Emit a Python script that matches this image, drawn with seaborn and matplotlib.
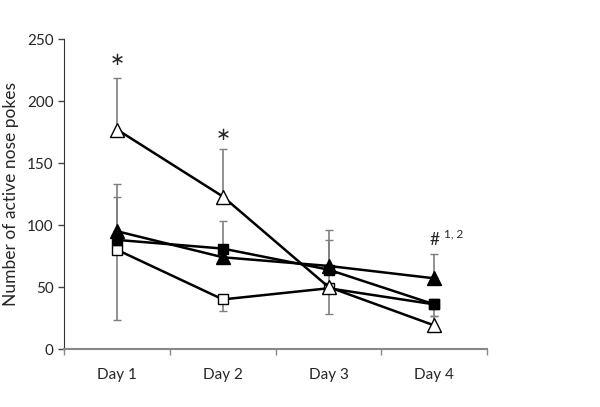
import matplotlib
matplotlib.use("Agg")
import matplotlib.pyplot as plt
import numpy as np
import pandas as pd
import seaborn as sns

DAYS = ["Day 1", "Day 2", "Day 3", "Day 4"]

# group means
OPEN_TRI = [177, 123, 50, 19]
FILLED_SQ = [88, 81, 64, 36]
FILLED_TRI = [95, 74, 67, 57]
OPEN_SQ = [80, 40, 49, 36]

# one-sided error bars (0 = not drawn)
OPEN_TRI_UP = [42, 38, 46, 8]
FILLED_SQ_UP = [35, 22, 24, 0]
FILLED_TRI_UP = [38, 0, 0, 20]
OPEN_SQ_DOWN = [57, 9, 21, 9]

STAR_Y = [233, 173]
HASH_Y = 88


def main() -> None:
	sns.set_style("white")
	plt.rcParams["font.family"] = ["Lato", "DejaVu Sans"]

	fig = plt.figure(figsize=(6.0, 4.07), dpi=100)
	ax = fig.add_axes([0.107, 0.1425, 0.705, 0.7615])

	x = np.arange(len(DAYS))
	series = [
		("open_sq", OPEN_SQ, "s", "white", 7),
		("filled_sq", FILLED_SQ, "s", "black", 7),
		("filled_tri", FILLED_TRI, "^", "black", 10),
		("open_tri", OPEN_TRI, "^", "white", 10),
	]
	errors = [
		(OPEN_SQ, np.zeros(4), OPEN_SQ_DOWN),
		(FILLED_SQ, FILLED_SQ_UP, np.zeros(4)),
		(FILLED_TRI, FILLED_TRI_UP, np.zeros(4)),
		(OPEN_TRI, OPEN_TRI_UP, np.zeros(4)),
	]

	# error bars first, so they sit under the markers
	for vals, up, down in errors:
		up = np.asarray(up, dtype=float)
		down = np.asarray(down, dtype=float)
		keep = (up > 0) | (down > 0)
		ax.errorbar(
			x[keep],
			np.asarray(vals, dtype=float)[keep],
			yerr=[down[keep], up[keep]],
			fmt="none",
			ecolor="#7f7f7f",
			elinewidth=1.2,
			capsize=3,
			capthick=1.0,
			zorder=1,
		)

	for name, vals, marker, face, size in series:
		df = pd.DataFrame({"x": x, "y": vals})
		sns.lineplot(
			data=df,
			x="x",
			y="y",
			ax=ax,
			color="black",
			linewidth=1.8,
			marker=marker,
			markersize=size,
			markerfacecolor=face,
			markeredgecolor="black",
			markeredgewidth=1.0,
			sort=False,
			estimator=None,
			zorder=3,
		)

	# significance marks
	for xi, yi in zip(x[:2], STAR_Y):
		ax.text(xi, yi, "\u2217", ha="center", va="center", fontsize=13,
			fontfamily="DejaVu Sans")
	ax.text(x[3], HASH_Y, "#", ha="center", va="center", fontsize=12.5)
	ax.annotate("1, 2", (x[3], HASH_Y), xytext=(7, 4), textcoords="offset points",
		ha="left", va="center", fontsize=8.5)

	ax.set_xlim(-0.5, len(DAYS) - 0.5)
	ax.set_ylim(0, 250)
	ax.set_yticks(np.arange(0, 251, 50))
	ax.set_xticks(np.arange(-0.5, len(DAYS), 1.0))
	ax.set_xticklabels([])
	ax.set_xticks(x, minor=True)
	ax.set_xticklabels(DAYS, minor=True)
	ax.tick_params(axis="x", which="major", length=4, width=1, color="#888888", direction="out", bottom=True)
	ax.tick_params(axis="x", which="minor", length=0, pad=14, labelsize=11)
	ax.tick_params(axis="y", length=4, width=1, color="#444444", direction="out", left=True, labelsize=11)

	ax.set_xlabel("")
	ax.set_ylabel("Number of active nose pokes", fontsize=12.5, labelpad=6)

	sns.despine(ax=ax)
	ax.spines["left"].set_color("#333333")
	ax.spines["bottom"].set_color("#888888")
	ax.spines["bottom"].set_linewidth(1.5)
	ax.grid(False)

	fig.savefig("out.png", dpi=100)


if __name__ == "__main__":
	main()
